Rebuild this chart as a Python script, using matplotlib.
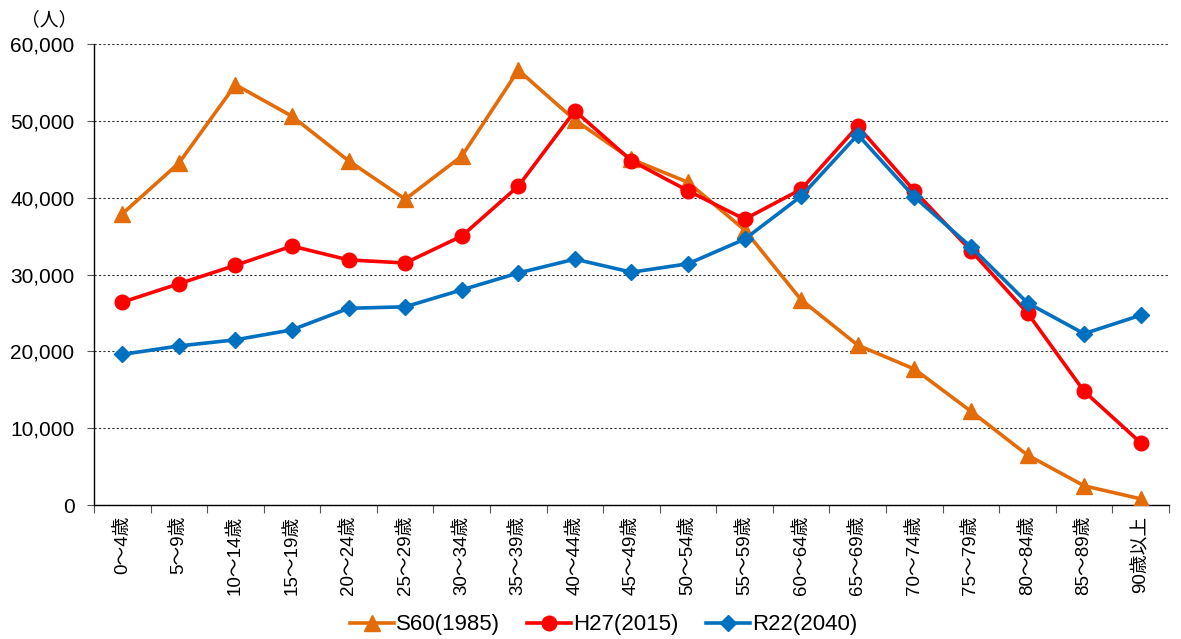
import matplotlib
matplotlib.use("Agg")
import matplotlib.pyplot as plt
from matplotlib.ticker import FuncFormatter, FixedLocator

plt.rcParams['font.family'] = ['Liberation Sans', 'Noto Sans CJK JP', 'DejaVu Sans']

categories = ["0～4歳", "5～9歳", "10～14歳", "15～19歳", "20～24歳", "25～29歳",
              "30～34歳", "35～39歳", "40～44歳", "45～49歳", "50～54歳", "55～59歳",
              "60～64歳", "65～69歳", "70～74歳", "75～79歳", "80～84歳", "85～89歳",
              "90歳以上"]
s60 = [37900, 44500, 54700, 50600, 44800, 39800, 45400, 56600, 50100, 45000,
       42000, 35800, 26700, 20800, 17700, 12200, 6500, 2500, 800]
h27 = [26400, 28800, 31200, 33700, 31900, 31500, 35000, 41500, 51300, 44800,
       40900, 37200, 41100, 49300, 40900, 33100, 25000, 14800, 8100]
r22 = [19600, 20700, 21500, 22800, 25600, 25800, 28000, 30200, 32000, 30300,
       31400, 34600, 40200, 48200, 40100, 33600, 26300, 22300, 24700]
series_names = ["S60(1985)", "H27(2015)", "R22(2040)"]

fig = plt.figure(figsize=(11.81, 6.39), dpi=100)
ax = fig.add_axes([0.0796, 0.2097, 0.9102, 0.7214])

x = list(range(len(categories)))
ax.plot(x, s60, color='#E36C09', lw=2.6, marker='^', ms=12, label=series_names[0], zorder=3)
ax.plot(x, h27, color='#FF0000', lw=2.6, marker='o', ms=10.5, label=series_names[1], zorder=4)
ax.plot(x, r22, color='#0070C0', lw=2.6, marker='D', ms=8, label=series_names[2], zorder=5)

ax.set_xlim(-0.5, len(categories) - 0.5)
ax.set_ylim(0, 60000)
ax.set_yticks(range(0, 60001, 10000))
ax.yaxis.set_major_formatter(FuncFormatter(lambda v, p: f"{int(v):,}"))
ax.tick_params(axis='y', length=5, width=0.8, labelsize=15, pad=9, color='#555555')
ax.yaxis.grid(True, linestyle=(0, (2, 2)), color='#333333', lw=0.8)
ax.set_axisbelow(True)

ax.set_xticks(x)
ax.set_xticklabels(categories, rotation=90, fontsize=13.5)
ax.tick_params(axis='x', which='major', length=0, pad=8)
ax.xaxis.set_minor_locator(FixedLocator([i - 0.5 for i in range(len(categories) + 1)]))
ax.tick_params(axis='x', which='minor', length=6, width=0.8, color='#555555')

for s in ['top', 'right']:
    ax.spines[s].set_visible(False)
ax.spines['left'].set_color('black')
ax.spines['bottom'].set_color('black')
ax.spines['left'].set_linewidth(1.0)
ax.spines['bottom'].set_linewidth(1.0)

fig.text(0.018, 0.968, "（人）", fontsize=13.5, va='center', ha='left')

fig.legend(loc='center', bbox_to_anchor=(0.511, 0.022), ncol=3, frameon=False,
           fontsize=16, handlelength=2.0, columnspacing=1.2, handletextpad=0.1)

fig.savefig("out.png", dpi=100)
